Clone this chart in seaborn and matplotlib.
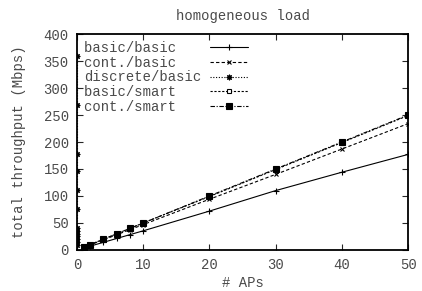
import matplotlib
matplotlib.use("Agg")
import matplotlib.pyplot as plt
import seaborn as sns

# x positions (# APs)
aps = [1, 2, 4, 6, 8, 10, 20, 30, 40, 50]

# total throughput (Mbps)
basic_basic = [3.6, 7.1, 14.2, 21.3, 28.4, 35.5, 72, 110, 144, 177]
cont_basic = [4.7, 9.4, 18.8, 28.2, 37.6, 47, 94, 140, 187, 234]
basic_smart = [5, 10, 20, 30, 40, 50, 99, 149, 199, 249]
cont_smart = [5, 10, 20, 30, 40, 50, 100, 150, 200, 250]

# discrete/basic ended up stacked on the y axis in the original
discrete_x = [0] * 13
discrete_basic = [360, 268, 178, 147, 111, 75, 40, 35, 30, 25, 20, 15, 10]

series = [
    ("basic/basic", aps, basic_basic, "-", "+", 4, "black"),
    ("cont./basic", aps, cont_basic, (0, (3, 2)), "x", 3.5, "black"),
    ("discrete/basic", discrete_x, discrete_basic, (0, (1, 1.5)), (8, 2, 0), 4, "black"),
    ("basic/smart", aps, basic_smart, (0, (2, 1.5)), "s", 3.5, "white"),
    ("cont./smart", aps, cont_smart, (0, (4, 1.5, 1, 1.5)), "s", 4, "black"),
]

TXT = "#4a4a4a"

sns.set_style("ticks")
plt.rcParams["font.family"] = ["Liberation Mono", "DejaVu Sans Mono"]

fig = plt.figure(figsize=(4.22, 2.91), dpi=100)
ax = fig.add_axes([0.1825, 0.141, 0.7845, 0.742])

width = len(max((s[0] for s in series), key=len))
for name, xs, ys, ls, mk, ms, mfc in series:
    sns.lineplot(x=xs, y=ys, ax=ax, color="black", linewidth=0.8,
                 linestyle=ls, marker=mk, markersize=ms,
                 markerfacecolor=mfc, markeredgecolor="black",
                 markeredgewidth=0.8, label=name.ljust(width),
                 estimator=None, sort=False)

ax.set_xlim(0, 50)
ax.set_ylim(0, 400)
ax.set_xticks(range(0, 51, 10))
ax.set_yticks(range(0, 401, 50))
ax.tick_params(direction="in", length=4, width=0.8, top=True, right=True,
               labelsize=10, labelcolor=TXT, pad=6)
for sp in ax.spines.values():
    sp.set_linewidth(1.3)
    sp.set_color("black")

ax.set_xlabel("# APs", fontsize=10, color=TXT, labelpad=3)
ax.set_ylabel("total throughput (Mbps)", fontsize=10, color=TXT, labelpad=13)
ax.set_title("homogeneous load", fontsize=10, color=TXT, pad=10)

ax.legend(loc="upper left", frameon=False, markerfirst=False, fontsize=10,
          handlelength=2.8, handletextpad=0.6, labelspacing=0.05,
          borderaxespad=0.1, labelcolor=TXT)

fig.savefig("out.png", dpi=100)
